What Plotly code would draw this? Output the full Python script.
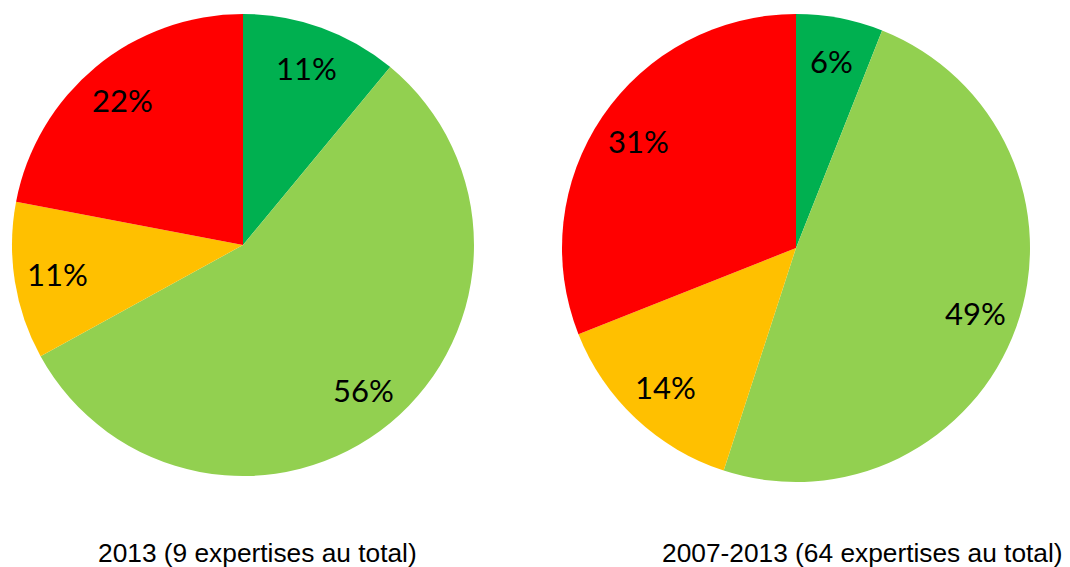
import math
import plotly.graph_objects as go

categories = ["Vert foncé", "Vert clair", "Orange", "Rouge"]
values_2013 = [11, 56, 11, 22]
values_2007_2013 = [6, 49, 14, 31]
colors = ["#00B050", "#92D050", "#FFC000", "#FF0000"]
captions = ["2013 (9 expertises au total)", "2007-2013 (64 expertises au total)"]

# page body has an 8px margin, so figure coordinates are shifted by it
OFF = 8
W, H = 1062, 559

# pie geometry in screen pixels: (left, right, top, bottom)
boxes = [(12, 474, 14, 476), (562, 1030, 14, 482)]
caption_x = [257, 862]
caption_y = 553

def dom(x0, x1, y0, y1):
    x0, x1, y0, y1 = x0 - OFF, x1 - OFF, y0 - OFF, y1 - OFF
    return dict(x=[x0 / W, x1 / W], y=[1 - y1 / H, 1 - y0 / H])

fig = go.Figure()
for vals, b in zip([values_2013, values_2007_2013], boxes):
    fig.add_trace(go.Pie(
        labels=categories, values=vals, sort=False, direction="clockwise", rotation=0,
        marker=dict(colors=colors, line=dict(width=0)),
        textinfo="none",
        hoverinfo="label+value", domain=dom(*b), showlegend=False,
    ))
    # labels placed at ~0.81 of the radius along each slice's mid-angle
    cx = (b[0] + b[1]) / 2 - OFF
    cy = (b[2] + b[3]) / 2 - OFF
    r = min(b[1] - b[0], b[3] - b[2]) / 2
    total = sum(vals)
    cum = 0
    for v in vals:
        mid = (cum + v / 2) / total * 2 * math.pi
        cum += v
        px = cx + 0.815 * r * math.sin(mid)
        py = cy - 0.815 * r * math.cos(mid)
        fig.add_annotation(text=f"{v}%", x=px / W, y=1 - py / H, xref="paper", yref="paper",
                           xanchor="center", yanchor="middle", showarrow=False,
                           font=dict(family="Lato", size=31, color="black"))

for txt, cx in zip(captions, caption_x):
    fig.add_annotation(text=txt, x=(cx - OFF) / W, y=1 - (caption_y - OFF) / H,
                       xref="paper", yref="paper", xanchor="center", yanchor="middle",
                       showarrow=False,
                       font=dict(family="Liberation Sans", size=26.3, color="black"))

fig.update_layout(width=W, height=H, margin=dict(l=0, r=0, t=0, b=0),
                  paper_bgcolor="white", plot_bgcolor="white")
fig.write_html("out.html")
